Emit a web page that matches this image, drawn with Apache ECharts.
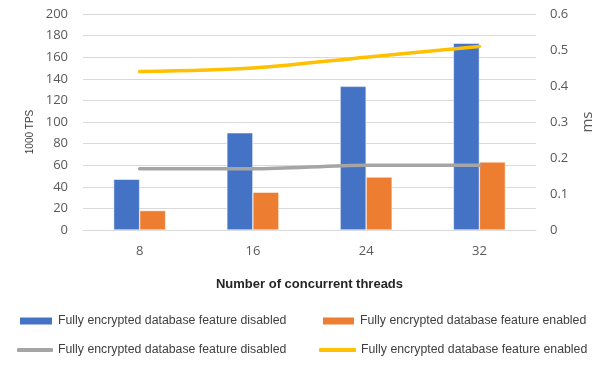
<!DOCTYPE html>
<html><head><meta charset="utf-8">
<script src="https://cdn.jsdelivr.net/npm/echarts@6/dist/echarts.min.js"></script>
<style>html,body{margin:0;padding:0;background:#fff}#c{width:613px;height:369px}</style>
</head><body><div id="c"></div>
<script>
const categories = ['8', '16', '24', '32'];
const tpsDisabled = [47, 90, 133, 173];
const tpsEnabled = [18, 35, 49, 63];
const latDisabled = [0.17, 0.17, 0.18, 0.18];
const latEnabled = [0.44, 0.45, 0.48, 0.51];
const leftTicks = {min: 0, max: 200, interval: 20};
const rightTicks = {min: 0, max: 0.6, interval: 0.1};
const nameDis = 'Fully encrypted database feature disabled';
const nameEn = 'Fully encrypted database feature enabled';

const chart = echarts.init(document.getElementById('c'));
const font = 'Open Sans';
const legText = {fontFamily: 'Liberation Sans', fontSize: 12.3, color: '#404040'};
const legBase = {padding: 0, selectedMode: false, textStyle: legText};
chart.setOption({
  animation: false,
  grid: {left: 83, right: 77, top: 14, bottom: 139},
  xAxis: {
    type: 'category', data: categories,
    axisLine: {show: true, lineStyle: {color: '#d9d9d9'}},
    axisTick: {show: false},
    axisLabel: {fontFamily: font, fontSize: 13, color: '#595959', margin: 15},
    name: 'Number of concurrent threads', nameLocation: 'middle', nameGap: 48,
    nameTextStyle: {fontFamily: 'Liberation Sans', fontSize: 13, fontWeight: 'bold', color: '#262626'}
  },
  yAxis: [{
    type: 'value', min: leftTicks.min, max: leftTicks.max, interval: leftTicks.interval,
    axisLine: {show: false}, axisTick: {show: false},
    splitLine: {lineStyle: {color: '#d9d9d9'}},
    axisLabel: {fontFamily: font, fontSize: 13, color: '#595959', margin: 15},
    name: '1000 TPS', nameLocation: 'middle', nameRotate: 90, nameGap: 43,
    nameTextStyle: {fontFamily: 'Liberation Sans', fontSize: 10, color: '#404040', padding: [0, 20, 0, 0]}
  }, {
    type: 'value', min: rightTicks.min, max: rightTicks.max, interval: rightTicks.interval,
    axisLine: {show: false}, axisTick: {show: false},
    splitLine: {show: false},
    axisLabel: {fontFamily: font, fontSize: 13, color: '#595959', margin: 14,
      formatter: v => (Math.round(v * 10) / 10).toString()},
    name: 'ms', nameLocation: 'middle', nameRotate: 90, nameGap: 44,
    nameTextStyle: {fontFamily: font, fontSize: 15, color: '#595959'}
  }],
  legend: [
    Object.assign({data: [nameDis], left: 18, top: 315, itemWidth: 34, itemHeight: 9, icon: 'rect'}, legBase),
    Object.assign({data: [nameEn], left: 321, top: 315, itemWidth: 33, itemHeight: 9, icon: 'rect'}, legBase),
    Object.assign({data: [nameDis + ' '], left: 17, top: 344, itemWidth: 36, itemHeight: 4, icon: 'roundRect'}, legBase),
    Object.assign({data: [nameEn + ' '], left: 319, top: 344, itemWidth: 37, itemHeight: 4, icon: 'roundRect'}, legBase)
  ],
  series: [
    {name: nameDis, type: 'bar', data: tpsDisabled, barWidth: 26, barGap: '0%',
     itemStyle: {color: '#4472C4', borderColor: '#ffffff', borderWidth: 0.5}},
    {name: nameEn, type: 'bar', data: tpsEnabled, barWidth: 26, barGap: '0%',
     itemStyle: {color: '#ED7D31', borderColor: '#ffffff', borderWidth: 0.5}},
    {name: nameDis + ' ', type: 'line', yAxisIndex: 1, data: latDisabled, smooth: 0.3,
     symbol: 'none', lineStyle: {color: '#A5A5A5', width: 3.5, cap: 'round'}, itemStyle: {color: '#A5A5A5'}},
    {name: nameEn + ' ', type: 'line', yAxisIndex: 1, data: latEnabled, smooth: 0.3,
     symbol: 'none', lineStyle: {color: '#FFC000', width: 3.5, cap: 'round'}, itemStyle: {color: '#FFC000'}}
  ]
});
</script></body></html>
